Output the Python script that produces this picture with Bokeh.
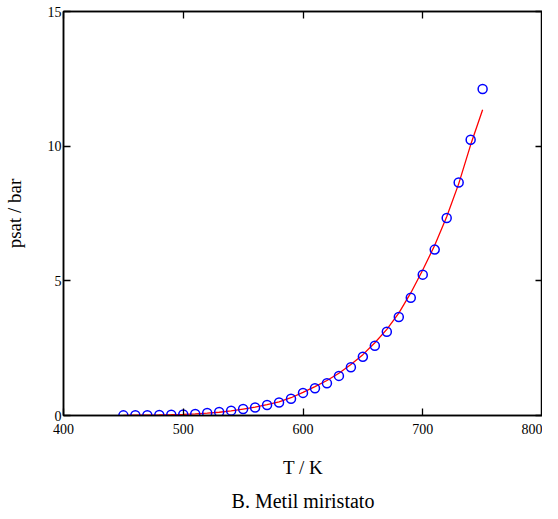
from bokeh.plotting import figure
from bokeh.models import Range1d, FixedTicker, LinearAxis, Title, ColumnDataSource
from bokeh.embed import file_html
from bokeh.resources import INLINE

# Data
T_exp = [450, 460, 470, 480, 490, 500, 510, 520, 530, 540, 550, 560, 570, 580, 590,
         600, 610, 620, 630, 640, 650, 660, 670, 680, 690, 700, 710, 720, 730, 740, 750]
psat_exp = [0.005, 0.008, 0.012, 0.018, 0.03, 0.04, 0.06, 0.09, 0.13, 0.18, 0.24, 0.30,
            0.39, 0.48, 0.62, 0.84, 1.01, 1.20, 1.47, 1.79, 2.18, 2.59, 3.11, 3.66, 4.37,
            5.23, 6.16, 7.33, 8.65, 10.24, 12.12]

T_fit = [450, 460, 470, 480, 490, 500, 510, 520, 530, 540, 550, 560, 570, 580, 590,
         600, 610, 620, 630, 640, 650, 660, 670, 680, 690, 700, 710, 720, 730, 740, 750]
psat_fit = [0.006, 0.009, 0.013, 0.019, 0.028, 0.04, 0.058, 0.085, 0.12, 0.17, 0.24, 0.31,
            0.40, 0.51, 0.66, 0.86, 1.07, 1.30, 1.57, 1.89, 2.26, 2.70, 3.20, 3.80, 4.55,
            5.40, 6.32, 7.38, 8.60, 10.05, 11.35]

x_ticks = [400, 500, 600, 700, 800]
y_ticks = [0, 5, 10, 15]

FONT = "Liberation Serif"

p = figure(width=542, height=519, x_range=Range1d(400, 800), y_range=Range1d(0, 15),
           output_backend="svg", toolbar_location=None,
           min_border_left=55, min_border_right=0, min_border_top=11, min_border_bottom=0)
p.grid.visible = False
p.outline_line_color = "black"
p.outline_line_width = 1.5
p.background_fill_color = "white"
p.border_fill_color = "white"

src_fit = ColumnDataSource(dict(T=T_fit, psat=psat_fit))
src_exp = ColumnDataSource(dict(T=T_exp, psat=psat_exp))
p.line("T", "psat", source=src_fit, line_color="red", line_width=1.3)
p.scatter("T", "psat", source=src_exp, marker="circle", size=9, fill_color=None,
          line_color="blue", line_width=1.5)

def style_axis(ax, ticks, show_labels):
    ax.ticker = FixedTicker(ticks=ticks)
    ax.minor_tick_line_color = None
    ax.major_tick_in = 7
    ax.major_tick_out = 0
    ax.major_tick_line_color = "black"
    ax.major_tick_line_width = 1.3
    ax.axis_line_color = "black"
    ax.axis_line_width = 1.5
    ax.major_label_text_font = FONT
    if show_labels:
        ax.major_label_text_font_size = "14px"
        ax.major_label_text_color = "black"
    else:
        ax.major_label_text_font_size = "1px"
        ax.major_label_text_color = None
        ax.major_label_standoff = 0

xb = p.xaxis[0]
style_axis(xb, x_ticks, True)
xb.major_label_standoff = 8
xb.axis_label = "T / K"
xb.axis_label_standoff = 20
xb.axis_label_text_font = FONT
xb.axis_label_text_font_size = "19px"
xb.axis_label_text_font_style = "normal"
xb.axis_label_text_color = "black"

yl = p.yaxis[0]
style_axis(yl, y_ticks, True)
yl.major_label_standoff = 2
yl.axis_label = "psat / bar"
yl.axis_label_standoff = 20
yl.axis_label_text_font = FONT
yl.axis_label_text_font_size = "19px"
yl.axis_label_text_font_style = "normal"
yl.axis_label_text_color = "black"

xt = LinearAxis()
style_axis(xt, x_ticks, False)
p.add_layout(xt, "above")

yr = LinearAxis()
style_axis(yr, y_ticks, False)
p.add_layout(yr, "right")

cap = Title(text="B. Metil miristato", align="center", text_font=FONT,
            text_font_size="20px", text_font_style="normal", text_color="black",
            standoff=15)
p.add_layout(cap, "below")

open("out.html", "w").write(file_html(p, INLINE))
